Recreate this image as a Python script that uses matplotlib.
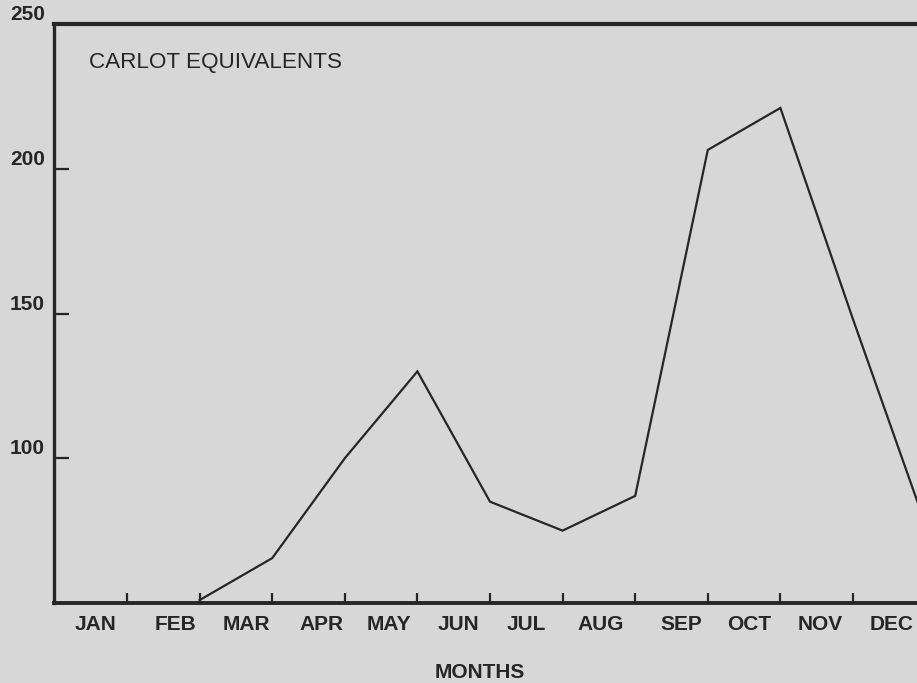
import matplotlib
matplotlib.use("Agg")
import matplotlib.pyplot as plt

# ---- data ----
months = ["JAN", "FEB", "MAR", "APR", "MAY", "JUN",
          "JUL", "AUG", "SEP", "OCT", "NOV", "DEC"]
point_x = [2, 3, 4, 5, 6, 7, 8, 9, 10, 11, 12]   # month boundaries
carlots = [51, 65.5, 100, 130, 85, 75, 87, 206.5, 221, 148, 77]
y_ticks = [100, 150, 200, 250]
y_tick_labels = ["100", "150", "200", "250"]

# label placement (as printed, slightly uneven)
month_label_pos = [0.57, 1.67, 2.65, 3.68, 4.61, 5.56,
                   6.50, 7.53, 8.63, 9.57, 10.55, 11.53]

BG = "#d7d7d7"
INK = "#262626"
plt.rcParams["font.family"] = ["Liberation Sans", "DejaVu Sans"]

W, H = 917, 683
fig = plt.figure(figsize=(W / 100, H / 100), dpi=100, facecolor=BG)
left_px, right_px = 54.4, 925.6
top_px, bot_px = 24, 603
ax = fig.add_axes([left_px / W, (H - bot_px) / H,
                   (right_px - left_px) / W, (bot_px - top_px) / H])
ax.set_facecolor(BG)

ax.plot(point_x, carlots, color=INK, lw=1.6, solid_joinstyle="miter",
        clip_on=False, zorder=3)

ax.set_xlim(0, 12)
ax.set_ylim(50, 250)

# spines
for s in ["left", "top", "bottom", "right"]:
    ax.spines[s].set_color(INK)
ax.spines["left"].set_linewidth(2.4)
ax.spines["top"].set_linewidth(3.0)
ax.spines["bottom"].set_linewidth(2.8)
ax.spines["right"].set_linewidth(2.4)

# x ticks: boundaries as major ticks, month names at minor positions
ax.set_xticks(range(1, 12))
ax.set_xticklabels([])
ax.set_xticks(month_label_pos, minor=True)
ax.set_xticklabels(months, minor=True)
ax.tick_params(axis="x", which="major", direction="in", length=7.5,
               width=1.6, color=INK)
ax.tick_params(axis="x", which="minor", length=0, pad=9,
               labelsize=15, labelcolor=INK)
for lbl in ax.get_xticklabels(minor=True):
    lbl.set_fontweight("bold")

# y ticks
ax.set_yticks(y_ticks)
ax.set_yticklabels(y_tick_labels)
ax.tick_params(axis="y", direction="in", length=10.5, width=1.6,
               color=INK, pad=7, labelsize=15, labelcolor=INK)
for lbl in ax.get_yticklabels():
    lbl.set_fontweight("bold")
    lbl.set_va("bottom")
ax.yaxis.get_major_ticks()[-1].tick1line.set_visible(False)

fig.text(89 / W, 1 - 62.5 / H, "CARLOT EQUIVALENTS", ha="left", va="center",
         fontsize=16.2, color=INK)
fig.text(480 / W, 1 - 673 / H, "MONTHS", ha="center", va="center",
         fontsize=15, fontweight="bold", color=INK)

fig.savefig("out.png", dpi=100, facecolor=BG)
